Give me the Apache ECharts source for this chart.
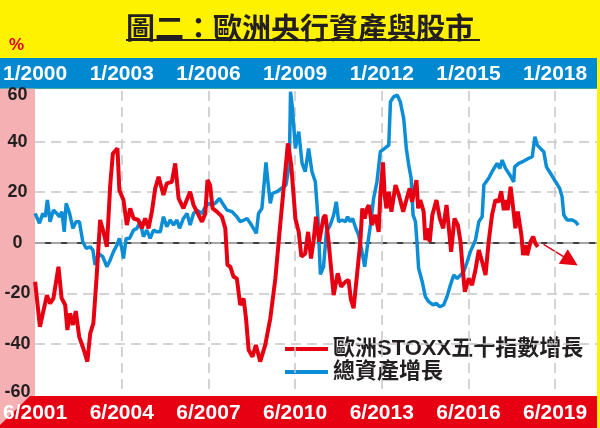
<!DOCTYPE html>
<html><head><meta charset="utf-8">
<script src="https://cdn.jsdelivr.net/npm/echarts@6/dist/echarts.min.js"></script>
<style>html,body{margin:0;padding:0;background:#FFF200}#c{width:600px;height:428px}</style>
</head><body><div id="c"></div>
<script>
// Tick labels (every 36 months)
const topLabels = ['1/2000','1/2003','1/2006','1/2009','1/2012','1/2015','1/2018'];
const bottomLabels = ['6/2001','6/2004','6/2007','6/2010','6/2013','6/2016','6/2019'];
const seriesNames = ['歐洲STOXX五十指數增長', '總資產增長'];

// STOXX 50 growth (%): months since 6/2001 (bottom axis)
const stoxxMonths = [0,2,4.9,6.2,7.6,9.7,11,12.5,13.4,14.5,15.7,16.9,18.3,20,21.7,22.9,24.2,25.6,27,28.4,29.8,31.2,32.3,34.2,35,36.7,38.1,39.5,40.9,42.9,44.3,45.7,47.1,48.5,49.9,51.3,53.3,54.7,56.8,58.2,59.6,61.6,63,64.4,65.8,67.2,69.3,70.7,71.6,72.7,73.7,75.5,77.6,79,79.9,81.1,82.4,83.8,85.2,86.6,87.6,88.7,90.3,91.7,93.5,95.6,97.7,99.8,101.8,103.9,105,106.4,108.1,109.5,110.6,112.2,113.4,114.6,115.7,116.7,118,119.8,120.6,121.9,124,125.7,127.1,128.9,130.2,131.2,132.3,133.7,135.1,135.9,136.9,137.9,138.6,139.9,141.3,142.7,143.4,144.5,145.2,145.9,146.9,148,149.7,151.1,152.9,154.2,155.6,156.6,158.4,159.1,160,161.4,162.1,163.1,163.9,165,166.7,168.1,169.5,170.9,172,172.8,174.2,175.6,176.7,177.6,178.5,180.1,181.5,182.9,184.3,185.7,187.1,188.4,189.8,191.2,192.6,193.6,194.7,195.7,196.3,197.5,198.6,199.5,200.5,202,202.7,203.7,204.4,205.8,206.9,207.8,208.8];
const stoxxGrowth = [-15.4,-33.2,-20.7,-24,-22,-9.5,-21.9,-24.6,-34.5,-27.9,-32.5,-27,-37.1,-41.7,-47,-35.8,-31.9,-12.8,9,4.3,-1.6,22.8,35.3,37.3,20.8,16.9,7,13.6,9.6,9,5.7,9.6,5.7,12.3,21.5,26.1,18.9,23.5,24.1,31.4,17.5,13.6,16.9,20.2,14.9,12.3,8.3,11.6,24.8,22.8,13.6,12.3,10.3,5.7,-8.8,-9.5,-13.4,-14.1,-24.6,-22,-29.9,-42.4,-45.1,-40.4,-47,-40.4,-29.9,-14.1,7,28.1,39.3,30.7,9.6,4.3,-5.5,-4.2,4.3,-6.2,1,10.3,0.4,10,11,0.4,-20.7,-12.1,-17.4,-15.4,-14.7,-22.6,-25.9,-12.8,0.4,13.6,9.6,13.6,14.9,7,11,4.3,18.9,31.8,18.9,13.6,20.2,12.3,22.8,18.9,12.3,16.9,21.5,16.2,24.8,13.6,16.9,12.3,1,5.7,0.4,11,16.9,9.6,5.7,14.9,4.3,-3.6,9.6,7,0.4,-10.1,-19.4,-14.1,-16.7,-10.8,-2.9,-7.5,-12.8,0.4,11,16.9,16.2,20.4,12.9,16.9,12.9,22.1,13.6,5.7,12.3,3,-4.9,-0.9,-4.9,0.4,2.4,-0.2,-1.6];

// ECB total assets growth (%): months since 1/2000 (top axis)
const assetMonths = [0,1.8,3.2,4.2,5.1,6.2,7.6,9.0,10.1,11.1,12.1,12.9,14.3,15.7,17.0,18.4,19.8,21.2,22.9,24.0,24.9,26.3,28.1,29.8,31.2,32.5,34.0,35.0,36.0,36.7,37.8,39.2,40.9,42.3,43.6,45.0,46.4,47.8,49.2,50.6,52.0,53.3,54.7,56.1,57.5,58.9,60.0,61.6,63.1,64.4,65.8,67.2,69.3,70.7,72.0,73.5,74.8,76.6,78.3,79.7,81.8,83.8,85.2,86.6,88.0,89.4,90.7,91.9,92.8,94.2,94.9,95.9,96.7,97.7,98.6,100.5,102.3,104.2,105.0,105.6,106.1,106.9,108.1,109.5,110.9,112.2,113.6,115.0,116.4,117.5,118.5,119.8,121.0,122.6,124.0,125.1,126.1,127.5,128.9,129.8,130.9,131.9,133.0,134.4,135.8,136.9,137.9,139.3,140.6,142.0,143.4,145.2,146.9,147.6,148.9,150.4,151.7,153.1,154.2,155.2,156.2,157.0,158.0,158.7,159.3,160.8,162.1,163.5,165.3,166.7,168.1,169.7,171.1,172.5,173.9,175.3,176.7,178.0,179.5,180.8,182.9,184.3,185.7,186.4,188.4,189.8,191.9,193.0,194.0,195.4,197.2,198.8,199.2,200.9,203.0,205.1,206.5,207.6,208.6,209.9,211.3,212.4,214.1,216.2,217.9,218.9,219.6,221.0,223.1,224.5,225.6];
const assetGrowth = [11.6,7.7,11.6,10.3,16.9,8.3,12.9,11.6,10.3,12.3,4.3,15.6,11.6,5.7,8.3,8.3,0.4,-2.2,-1.6,-2.9,-8.8,-4.2,-5.5,-9.5,-6.8,-3.6,-0.9,1.7,-2.2,-6.2,1.7,1.7,5,5.7,8.3,2.4,5,1.7,5,4.3,4.3,10.3,6.3,9,7,9,5.7,9.6,11.6,7,11.6,12.9,11.6,14.2,15.6,14.9,15.6,17.5,14.9,12.9,12.3,10.3,8.3,8.9,9.6,7.7,5.7,3.7,11.6,13.6,14.2,31.8,24.1,15.6,19.5,20.2,21.5,22.8,22.8,31,59.7,53.1,37.3,43.9,31.4,28.1,37.3,28.1,24.1,9.6,-12.5,-9.5,4.3,7,11,16.2,8.3,9,8.3,10.3,8.3,9.6,6.3,3,-3.6,-9.5,-2.2,7,17.5,24.1,36,37.3,38.6,55.7,57.7,58.4,55.7,49.2,37.3,30.7,25.5,11,8.3,-0.9,-10.1,-15.4,-21.3,-23.3,-24.6,-24,-25.3,-24.6,-21.3,-16.7,-12.8,-14.1,-12.8,-11.5,-7.5,-3.5,1,8.3,10.3,22.8,25.5,28.1,31.4,29.4,32.7,29.4,26.8,24.1,30,31.4,32.3,33.4,34,41.9,38.6,37.3,36,30,27.4,24.1,21.5,18.2,11,9,9,8.3,7];

// Trend arrow after the last STOXX reading: [month since 6/2001, %]
const arrowFrom = [211.2, -0.6];
const arrowTo = [222.4, -7.2];

const LATIN = '"Liberation Sans", Arial, "Noto Sans CJK TC", sans-serif';
const CJK = '"Noto Sans CJK TC", "Liberation Sans", sans-serif';
const RED = '#E60012', BLUE = '#0C8DD6';
const SPAN = 233.4;
const grid = {left: 35, right: 3, top: 91, bottom: 33.5};
const gridStyle = {color: '#c6c6c6', width: 1.5, type: [10, 6]};
const lbl = (arr) => (v) => (Math.abs(v % 36) < 1e-6 && arr[Math.round(v / 36)]) ? arr[Math.round(v / 36)] : '';

const chart = echarts.init(document.getElementById('c'), null, {renderer: 'canvas'});
chart.setOption({
  animation: false,
  backgroundColor: '#FFF200',
  title: {
    text: '圖二：歐洲央行資產與股市', left: 'center', top: 8,
    textStyle: {fontFamily: CJK, fontSize: 29, fontWeight: 'bold', color: '#231F20'}
  },
  graphic: [
    {type: 'rect', z: 1, shape: {x: 35, y: 88.7, width: 562, height: 307.3}, style: {fill: '#ffffff'}},
    {type: 'rect', z: 1, shape: {x: 0, y: 58, width: 597, height: 30.7}, style: {fill: '#0089D0'}},
    {type: 'rect', z: 1, shape: {x: 0, y: 88.7, width: 35, height: 337}, style: {fill: '#F4B0B3'}},
    {type: 'polygon', z: 1, shape: {points: [[0, 425], [30, 396], [597, 396], [597, 428], [0, 428]]}, style: {fill: RED}},
    {type: 'line', z: 1, shape: {x1: 126, y1: 40, x2: 480, y2: 40}, style: {stroke: '#231F20', lineWidth: 2}}
  ],
  grid: grid,
  legend: {
    orient: 'vertical', left: 280, top: 333, itemWidth: 43, itemHeight: 4, itemGap: 1, icon: 'rect',
    data: seriesNames,
    textStyle: {fontFamily: LATIN, fontSize: 22, fontWeight: 'bold', color: '#231F20', lineHeight: 22}
  },
  xAxis: [
    {type: 'value', position: 'bottom', min: 0, max: SPAN, interval: 36, z: 10,
     axisLine: {show: false}, axisTick: {show: false},
     splitLine: {show: true, showMinLine: false, showMaxLine: false, lineStyle: gridStyle},
     axisLabel: {margin: 18.5, verticalAlign: 'middle', color: '#fff', fontSize: 21, fontWeight: 'bold', fontFamily: LATIN, showMinLabel: true, formatter: lbl(bottomLabels)}},
    {type: 'value', position: 'top', min: 0, max: SPAN, interval: 36, z: 10,
     axisLine: {show: false}, axisTick: {show: false}, splitLine: {show: false},
     axisLabel: {margin: 17, verticalAlign: 'middle', color: '#fff', fontSize: 21, fontWeight: 'bold', fontFamily: LATIN, showMinLabel: true, formatter: lbl(topLabels)}}
  ],
  yAxis: {
    type: 'value', min: -60, max: 60, interval: 20, z: 10,
    axisLine: {show: false}, axisTick: {show: false},
    splitLine: {show: true, showMinLine: false, showMaxLine: false, lineStyle: gridStyle},
    axisLabel: {margin: 17.5, align: 'center', color: '#231F20', fontSize: 18, fontWeight: 'bold', fontFamily: LATIN,
      formatter: (v) => v === 60 ? '{hi|' + v + '}' : (v === -60 ? '{lo|' + v + '}' : String(v)),
      rich: {
        hi: {padding: [9, 0, 0, 0], color: '#231F20', fontSize: 18, fontWeight: 'bold', fontFamily: LATIN},
        lo: {padding: [0, 0, 5, 0], color: '#231F20', fontSize: 18, fontWeight: 'bold', fontFamily: LATIN}
      }},
    name: '%', nameLocation: 'end', nameGap: 37,
    nameTextStyle: {color: RED, fontSize: 17, fontWeight: 'bold', fontFamily: LATIN, align: 'center', padding: [0, 37, 0, 0]}
  },
  series: [
    {type: 'line', xAxisIndex: 0, data: [[0, 0]], showSymbol: false, symbol: 'none', lineStyle: {width: 0}, silent: true, z: 15,
     markLine: {silent: true, symbol: 'none', label: {show: false}, lineStyle: {color: '#000', width: 1.5, type: 'solid'}, data: [{yAxis: 0}]}},
    {name: seriesNames[1], type: 'line', xAxisIndex: 1, z: 20, showSymbol: false, symbol: 'none',
     data: assetMonths.map((m, i) => [m, assetGrowth[i]]),
     lineStyle: {color: BLUE, width: 3.5}, itemStyle: {color: BLUE}},
    {name: seriesNames[0], type: 'line', xAxisIndex: 0, z: 21, showSymbol: false, symbol: 'none',
     data: stoxxMonths.map((m, i) => [m, stoxxGrowth[i]]),
     lineStyle: {color: RED, width: 4}, itemStyle: {color: RED},
     markLine: {silent: true, symbol: ['none', 'triangle'], symbolSize: 17, label: {show: false},
       lineStyle: {color: RED, width: 1.5, type: 'solid'},
       data: [[{coord: arrowFrom}, {coord: arrowTo}]]}}
  ]
});
</script>
</body></html>
